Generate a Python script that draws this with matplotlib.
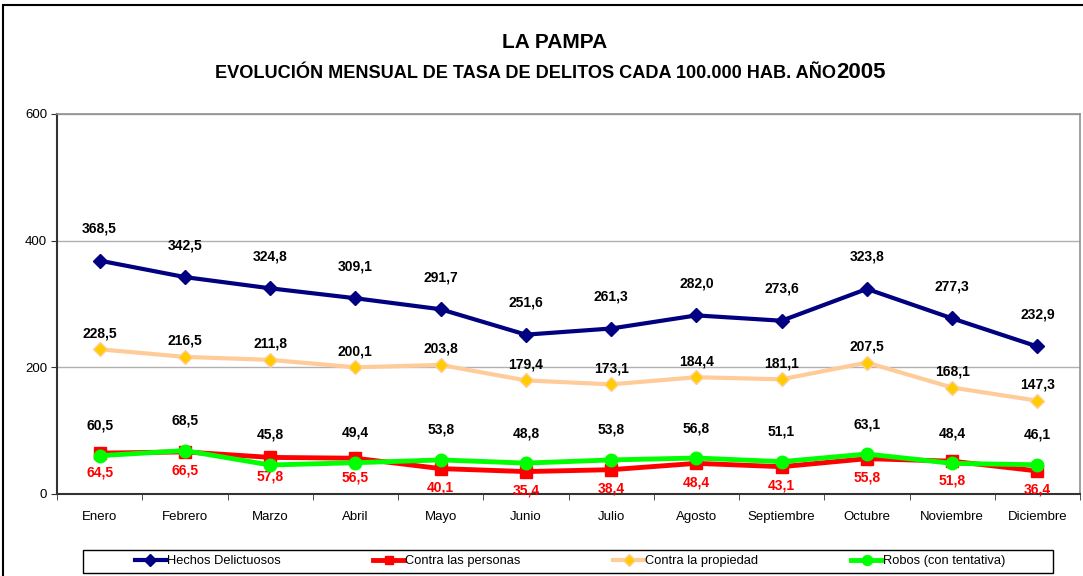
import matplotlib
matplotlib.use("Agg")
import matplotlib.pyplot as plt
from matplotlib.patches import Rectangle
import numpy as np

plt.rcParams['font.family'] = ['Liberation Sans', 'DejaVu Sans']

months = ["Enero", "Febrero", "Marzo", "Abril", "Mayo", "Junio", "Julio",
          "Agosto", "Septiembre", "Octubre", "Noviembre", "Diciembre"]
hechos = [368.5, 342.5, 324.8, 309.1, 291.7, 251.6, 261.3, 282.0, 273.6, 323.8, 277.3, 232.9]
personas = [64.5, 66.5, 57.8, 56.5, 40.1, 35.4, 38.4, 48.4, 43.1, 55.8, 51.8, 36.4]
propiedad = [228.5, 216.5, 211.8, 200.1, 203.8, 179.4, 173.1, 184.4, 181.1, 207.5, 168.1, 147.3]
robos = [60.5, 68.5, 45.8, 49.4, 53.8, 48.8, 53.8, 56.8, 51.1, 63.1, 48.4, 46.1]
yticks = [0, 200, 400, 600]

W, H = 1083, 576
fig = plt.figure(figsize=(W / 100, H / 100), dpi=100)
ax = fig.add_axes([57 / W, 1 - 494 / H, (1080 - 57) / W, (494 - 114) / H])

x = np.arange(len(months))

l1, = ax.plot(x, hechos, color="#000080", lw=3, marker="D", ms=7.5,
              mfc="#000080", mec="#000080", label="Hechos Delictuosos", zorder=4)
l3, = ax.plot(x, propiedad, color="#FFCC99", lw=3, marker="D", ms=7.5,
              mfc="#FFCC00", mec="#FFCC99", label="Contra la propiedad", zorder=3)
l2, = ax.plot(x, personas, color="#FF0000", lw=3.5, marker="s", ms=8,
              mfc="#FF0000", mec="#FF0000", label="Contra las personas", zorder=5)
l4, = ax.plot(x, robos, color="#00FF00", lw=3.5, marker="o", ms=9,
              mfc="#00FF00", mec="#00FF00", label="Robos (con tentativa)", zorder=6)

lab_kw = dict(textcoords="offset pixels", ha="center", va="center",
              fontsize=10, fontweight="bold")
for xi, v in zip(x, hechos):
    ax.annotate(f"{v:.1f}".replace(".", ","), (xi, v), xytext=(0, 32),
                color="black", **lab_kw)
for xi, v in zip(x, propiedad):
    ax.annotate(f"{v:.1f}".replace(".", ","), (xi, v), xytext=(0, 16),
                color="black", **lab_kw)
for xi, v in zip(x, robos):
    ax.annotate(f"{v:.1f}".replace(".", ","), (xi, v), xytext=(0, 30),
                color="black", **lab_kw)
for xi, v in zip(x, personas):
    ax.annotate(f"{v:.1f}".replace(".", ","), (xi, v), xytext=(0, -19),
                color="#FF0000", **lab_kw)

ax.set_xlim(-0.5, len(months) - 0.5)
ax.set_ylim(0, 600)
ax.set_yticks(yticks)
ax.set_yticklabels([str(t) for t in yticks], fontsize=9.5)
ax.set_xticks(x)
ax.set_xticklabels(months, fontsize=9.5)
ax.tick_params(axis="x", length=0, pad=12)
ax.set_xticks(np.arange(-0.5, len(months)), minor=True)
ax.tick_params(axis="x", which="minor", length=4, direction="out", color="#333333")
ax.tick_params(axis="y", length=4, direction="out", color="#333333", pad=3)

ax.grid(axis="y", color="#B0B0B0", lw=1)
ax.set_axisbelow(True)
for s in ["top", "right"]:
    ax.spines[s].set_color("#909090")
    ax.spines[s].set_linewidth(1.2)
for s in ["left", "bottom"]:
    ax.spines[s].set_color("#333333")
    ax.spines[s].set_linewidth(1.5)

# Titles
fig.text(555 / W, 1 - 42 / H, "LA PAMPA", ha="center", va="center",
         fontsize=15, fontweight="bold")
sub = fig.text(215 / W, 1 - 78 / H, "EVOLUCIÓN MENSUAL DE TASA DE DELITOS CADA 100.000 HAB. AÑO",
               ha="left", va="baseline", fontsize=13.1, fontweight="bold")
fig.canvas.draw()
bb = sub.get_window_extent()
fig.text(bb.x1 / W, 1 - 78 / H, "2005", ha="left", va="baseline",
         fontsize=16, fontweight="bold")

# Legend (frameless, with a separate box)
leg = fig.legend(handles=[l1, l2, l3, l4], loc="center", ncol=4,
                 bbox_to_anchor=(570 / W, 1 - 561 / H),
                 fontsize=9.3, frameon=False, handlelength=2.4,
                 handletextpad=0.05, columnspacing=7.2, borderpad=0.2,
                 markerscale=0.8)
fig.patches.append(Rectangle((83 / W, 1 - 573 / H), (1053 - 83) / W, 23 / H,
                             transform=fig.transFigure, fill=False,
                             edgecolor="black", lw=1))

# Outer chart border
fig.patches.append(Rectangle((3 / W, -0.1), 1.2, 1 - 5 / H + 0.1,
                             transform=fig.transFigure, fill=False,
                             edgecolor="black", lw=1.5))

fig.savefig("out.png", dpi=100)
